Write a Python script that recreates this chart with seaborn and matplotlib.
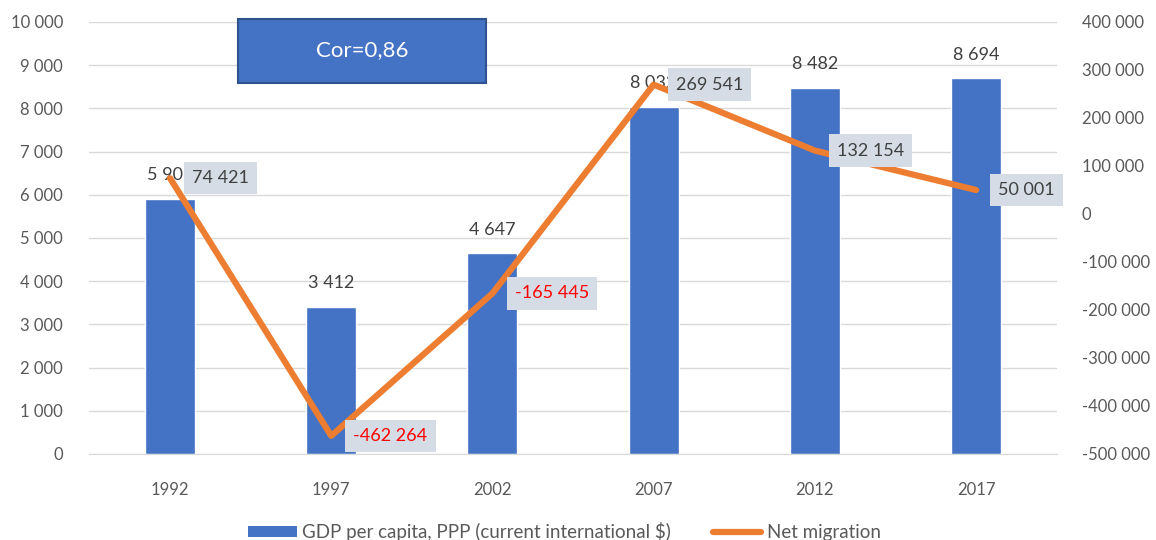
import numpy as np
import pandas as pd
import matplotlib
matplotlib.use('Agg')
import matplotlib.pyplot as plt
import seaborn as sns
from matplotlib.patches import Rectangle, Patch
from matplotlib.lines import Line2D

# Data
years = ['1992', '1997', '2002', '2007', '2012', '2017']
gdp = [5903, 3412, 4647, 8032, 8482, 8694]
migration = [74421, -462264, -165445, 269541, 132154, 50001]

BLUE = '#4472C4'
ORANGE = '#ED7D31'
GRID = '#D9D9D9'
TICK = '#595959'


def fmt(v):
    return f'{v:,}'.replace(',', ' ')


sns.set_style('white')
plt.rcParams['font.family'] = ['Lato', 'DejaVu Sans']

df = pd.DataFrame({'Year': years, 'GDP': gdp, 'pos': np.arange(len(years)),
                   'Migration': migration})

fig = plt.figure(figsize=(11.56, 5.4), dpi=100)
ax = fig.add_axes([0.0774, 0.1593, 0.8366, 0.8])

sns.barplot(data=df, x='Year', y='GDP', color=BLUE, width=0.31,
            saturation=1, ax=ax, zorder=2)
ax.set_ylim(0, 10000)
ax.set_yticks(range(0, 10001, 1000))
ax.set_yticklabels([fmt(t) for t in range(0, 10001, 1000)])
ax.yaxis.grid(True, color=GRID, linewidth=1)
ax.set_axisbelow(True)
ax.set_xlabel('')
ax.set_ylabel('')
for s in ax.spines.values():
    s.set_visible(False)
ax.spines['bottom'].set_visible(True)
ax.spines['bottom'].set_color(GRID)
ax.tick_params(axis='both', length=0, labelsize=12, colors=TICK)
ax.tick_params(axis='y', pad=19)
ax.tick_params(axis='x', pad=20)
ax.set_xlim(-0.5, len(years) - 0.5)

for i, v in enumerate(gdp):
    ax.annotate(fmt(v), (i, v), xytext=(0, 17), textcoords='offset points',
                ha='center', va='center', fontsize=13, color='#404040')

ax2 = ax.twinx()
sns.lineplot(data=df, x='pos', y='Migration', color=ORANGE, linewidth=4.5,
             ax=ax2, zorder=3)
ax2.set_ylim(-500000, 400000)
ticks2 = list(range(-500000, 400001, 100000))
ax2.set_yticks(ticks2)
ax2.set_yticklabels([fmt(t) for t in ticks2])
ax2.set_ylabel('')
ax2.set_xlabel('')
for s in ax2.spines.values():
    s.set_visible(False)
ax2.tick_params(axis='y', length=0, labelsize=12, colors=TICK, pad=18)
ax2.set_xlim(-0.5, len(years) - 0.5)

for i, v in enumerate(migration):
    ax2.annotate(fmt(v), (i, v), xytext=(16, 0), textcoords='offset points',
                 ha='left', va='center', fontsize=13,
                 color='#FF0000' if v < 0 else '#404040', zorder=5,
                 bbox=dict(boxstyle='square,pad=0.45', fc='#D6DCE5', ec='none'))

# correlation box
fig.patches.append(Rectangle((0.2059, 0.8463), 0.2145, 0.1185,
                             transform=fig.transFigure, facecolor=BLUE,
                             edgecolor='#2F528F', linewidth=1.5, zorder=10))
fig.text(0.3131, 0.9074, 'Cor=0,86', color='white', fontsize=16,
         ha='center', va='center', zorder=11)

handles = [Patch(facecolor=BLUE, edgecolor='none'),
           Line2D([0], [0], color=ORANGE, linewidth=4.5, solid_capstyle='round')]
fig.legend(handles, ['GDP per capita, PPP (current international $)', 'Net migration'],
           loc='center left', bbox_to_anchor=(0.2, 0.016), ncol=2, frameon=False,
           fontsize=13.5, handlelength=2.6, handleheight=0.55, handletextpad=0.3,
           columnspacing=2.2, labelcolor=TICK)

fig.savefig('out.png', dpi=100)
